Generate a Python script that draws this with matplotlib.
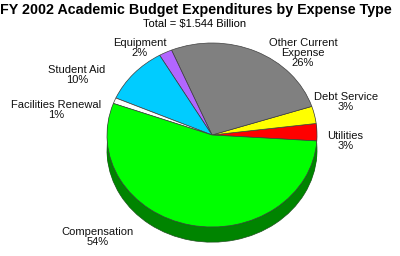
import numpy as np
import matplotlib.pyplot as plt

plt.rcParams['font.family'] = ['Liberation Sans', 'DejaVu Sans']

# slices, counter-clockwise starting just below the right edge
names = ['Utilities', 'Debt Service', 'Other Current\nExpense', 'Equipment',
         'Student Aid', 'Facilities Renewal', 'Compensation']
percents = [3, 3, 26, 2, 10, 1, 54]
top_colors = ['#FF0000', '#FFFF00', '#808080', '#B266FF', '#00CCFF', '#FFFFFF', '#00FF00']
side_colors = ['#990000', '#999900', '#4d4d4d', '#6a3d99', '#007a99', '#999999', '#008400']

# label block centres (axis units, pie radius = 1)
label_xy = [(1.27, -0.07), (1.276, 0.36), (0.867, 0.89), (-0.686, 0.946),
            (-1.286, 0.65), (-1.486, 0.27), (-1.086, -1.11)]

fig = plt.figure(figsize=(4, 2.56), dpi=100)
ax = fig.add_axes([0, 0, 1, 1])

start = -3.7
depth = 0.165
layers = 16
# side of the pie: stacked copies, bottom one outlined
ax.pie(percents, colors=side_colors, startangle=start, center=(0, -depth),
       wedgeprops=dict(linewidth=0.5, edgecolor='#205020'), frame=False)
for k in range(layers - 1, 0, -1):
    ax.pie(percents, colors=side_colors, startangle=start, center=(0, -depth * k / layers),
           wedgeprops=dict(linewidth=0), frame=False)
ax.pie(percents, colors=top_colors, startangle=start, center=(0, 0),
       wedgeprops=dict(linewidth=0.5, edgecolor='#404040'), frame=False)

for name, pct, (lx, ly) in zip(names, percents, label_xy):
    ax.text(lx, ly, f'{name}\n{pct}%', ha='center', va='center', multialignment='center',
            fontsize=8, linespacing=1.0, color='#111111')

ax.set_aspect('auto')
ax.set_xlim(-212 / 105, 188 / 105)
ax.set_ylim(-121 / 92, 135 / 92)
ax.axis('off')

fig.text(0.49, 1 - 10 / 256, 'FY 2002 Academic Budget Expenditures by Expense Type',
         ha='center', va='center', fontsize=10.3, fontweight='bold')
fig.text(0.487, 1 - 24 / 256, 'Total = $1.544 Billion', ha='center', va='center', fontsize=8)

fig.savefig('out.png', dpi=100)
